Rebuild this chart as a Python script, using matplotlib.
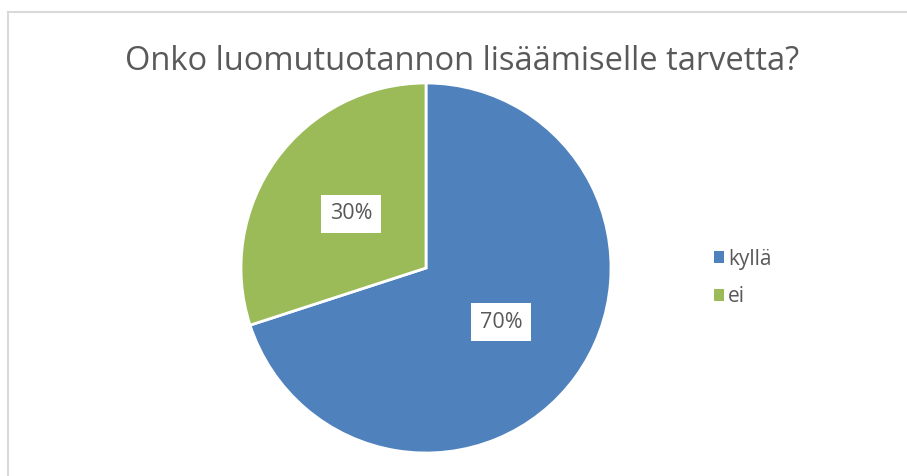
import matplotlib
matplotlib.use("Agg")
import matplotlib.pyplot as plt
from matplotlib.lines import Line2D

title = "Onko luomutuotannon lisäämiselle tarvetta?"
categories = ["kyllä", "ei"]
values = [70, 30]
colors = ["#4F81BD", "#9BBB59"]
text_color = "#595959"

plt.rcParams['font.family'] = ['Open Sans', 'DejaVu Sans']

W, H = 907, 476
fig = plt.figure(figsize=(W / 100, H / 100), dpi=100)

# chart frame (top and left visible)
fig.add_artist(Line2D([8 / W, 906 / W], [1 - 12 / H, 1 - 12 / H], color="#D9D9D9", lw=1.5))
fig.add_artist(Line2D([8 / W, 8 / W], [1 - 12 / H, 0], color="#D9D9D9", lw=1.5))

cx, cy, r = 426, 268, 185
ax = fig.add_axes([(cx - r) / W, 1 - (cy + r) / H, 2 * r / W, 2 * r / H])
wedges, texts, autotexts = ax.pie(
    values, colors=colors, startangle=90, counterclock=False,
    autopct=lambda p: f"{p:.0f}%", pctdistance=0.5,
    wedgeprops=dict(edgecolor="white", linewidth=2),
    textprops=dict(color=text_color, fontsize=15.5),
)
for t in autotexts:
    t.set_bbox(dict(facecolor="white", edgecolor="none", boxstyle="square,pad=0.4"))
ax.set_xlim(-1, 1)
ax.set_ylim(-1, 1)
ax.set_aspect("equal")

fig.text(462 / W, 1 - 61 / H, title, ha="center", va="center", fontsize=23.5, color=text_color)

leg = fig.legend(wedges, categories, loc="center left",
                 bbox_to_anchor=(695 / W, 1 - 278 / H), frameon=False,
                 fontsize=15, labelcolor=text_color,
                 handlelength=0.5, handleheight=0.5, handletextpad=0.2,
                 labelspacing=0.8)
for h in leg.legend_handles:
    h.set_edgecolor("none")

fig.savefig("out.png", dpi=100)
